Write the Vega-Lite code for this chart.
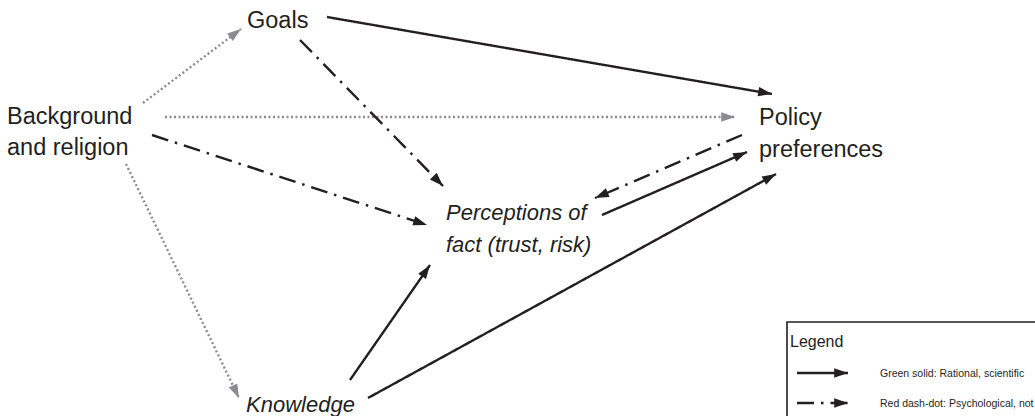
{
  "$schema": "https://vega.github.io/schema/vega-lite/v6.json",
  "width": 1035,
  "height": 416,
  "autosize": {"type": "none"},
  "padding": 0,
  "background": "white",
  "config": {"view": {"stroke": null}},
  "datasets": {
    "edges": [
      {"from": "Background", "to": "Goals", "style": "dotted", "x": 143, "y": 103, "x2": 241, "y2": 29},
      {"from": "Background", "to": "Policy", "style": "dotted", "x": 165, "y": 117, "x2": 735, "y2": 117},
      {"from": "Background", "to": "Knowledge", "style": "dotted", "x": 126, "y": 164, "x2": 239, "y2": 398},
      {"from": "Background", "to": "Perceptions", "style": "dashdot", "x": 152, "y": 135, "x2": 427, "y2": 225},
      {"from": "Goals", "to": "Perceptions", "style": "dashdot", "x": 300, "y": 40, "x2": 443, "y2": 186},
      {"from": "Goals", "to": "Policy", "style": "solid", "x": 327, "y": 17, "x2": 772, "y2": 94},
      {"from": "Policy", "to": "Perceptions", "style": "dashdot", "x": 742, "y": 135, "x2": 595, "y2": 198},
      {"from": "Perceptions", "to": "Policy", "style": "solid", "x": 602, "y": 215, "x2": 747, "y2": 152},
      {"from": "Knowledge", "to": "Perceptions", "style": "solid", "x": 350, "y": 380, "x2": 430, "y2": 265},
      {"from": "Knowledge", "to": "Policy", "style": "solid", "x": 368, "y": 398, "x2": 776, "y2": 174},
      {"from": "legend1", "to": "legend1", "style": "solid", "x": 797, "y": 373, "x2": 848, "y2": 373},
      {"from": "legend2", "to": "legend2", "style": "dashdot", "x": 797, "y": 403, "x2": 848, "y2": 403}
    ],
    "nodes": [
      {"label": "Goals", "x": 247, "y": 21},
      {"label": "Background", "x": 7, "y": 117},
      {"label": "and religion", "x": 7, "y": 148},
      {"label": "Policy", "x": 759, "y": 118},
      {"label": "preferences", "x": 759, "y": 150}
    ],
    "nodesItalic": [
      {"label": "Perceptions of", "x": 446, "y": 213},
      {"label": "fact (trust, risk)", "x": 446, "y": 245},
      {"label": "Knowledge", "x": 246, "y": 405}
    ],
    "legendBox": [{"x": 787, "y": 322, "x2": 1080, "y2": 450}],
    "legendTitle": [{"label": "Legend", "x": 790, "y": 342}],
    "legendItems": [
      {"label": "Green solid: Rational, scientific", "x": 880, "y": 374},
      {"label": "Red dash-dot: Psychological, not rational", "x": 880, "y": 404}
    ]
  },
  "layer": [
    {
      "data": {"name": "legendBox"},
      "mark": {"type": "rect", "fill": null, "stroke": "#231f20", "strokeWidth": 1.6, "clip": true},
      "encoding": {
        "x": {"field": "x", "type": "quantitative", "scale": {"domain": [0, 1035], "nice": false, "zero": false}, "axis": null},
        "x2": {"field": "x2"},
        "y": {"field": "y", "type": "quantitative", "scale": {"domain": [0, 416], "nice": false, "zero": false, "reverse": true}, "axis": null},
        "y2": {"field": "y2"}
      }
    },
    {
      "data": {"name": "edges"},
      "mark": {"type": "rule", "strokeWidth": 2.4, "strokeCap": "butt", "clip": true},
      "encoding": {
        "x": {"field": "x", "type": "quantitative", "axis": null},
        "y": {"field": "y", "type": "quantitative", "axis": null},
        "x2": {"field": "x2"},
        "y2": {"field": "y2"},
        "color": {"field": "style", "type": "nominal", "legend": null,
          "scale": {"domain": ["solid", "dashdot", "dotted"], "range": ["#231f20", "#231f20", "#8c8c8e"]}},
        "strokeDash": {"field": "style", "type": "nominal", "legend": null,
          "scale": {"domain": ["solid", "dashdot", "dotted"], "range": [[1, 0], [17, 7, 2.5, 7], [2, 2.5]]}},
        "detail": {"field": "from"}
      }
    },
    {
      "data": {"name": "edges"},
      "transform": [{"calculate": "atan2(datum.x2 - datum.x, datum.y - datum.y2) * 180 / PI", "as": "ang"}],
      "mark": {"type": "point", "shape": "M0,0L-0.6,1.75L0.6,1.75Z", "filled": true, "opacity": 1, "size": 250, "strokeWidth": 0, "clip": true},
      "encoding": {
        "x": {"field": "x2", "type": "quantitative", "axis": null},
        "y": {"field": "y2", "type": "quantitative", "axis": null},
        "angle": {"field": "ang", "type": "quantitative", "scale": null},
        "color": {"field": "style", "type": "nominal", "legend": null,
          "scale": {"domain": ["solid", "dashdot", "dotted"], "range": ["#231f20", "#231f20", "#8c8c8e"]}}
      }
    },
    {
      "data": {"name": "nodes"},
      "mark": {"type": "text", "align": "left", "baseline": "middle", "font": "Liberation Sans", "fontSize": 23.5, "color": "#231f20", "clip": true},
      "encoding": {
        "x": {"field": "x", "type": "quantitative", "axis": null},
        "y": {"field": "y", "type": "quantitative", "axis": null},
        "text": {"field": "label"}
      }
    },
    {
      "data": {"name": "nodesItalic"},
      "mark": {"type": "text", "align": "left", "baseline": "middle", "font": "Liberation Sans", "fontStyle": "italic", "fontSize": 22, "color": "#231f20", "clip": true},
      "encoding": {
        "x": {"field": "x", "type": "quantitative", "axis": null},
        "y": {"field": "y", "type": "quantitative", "axis": null},
        "text": {"field": "label"}
      }
    },
    {
      "data": {"name": "legendTitle"},
      "mark": {"type": "text", "align": "left", "baseline": "middle", "font": "Liberation Sans", "fontSize": 16, "color": "#231f20", "clip": true},
      "encoding": {
        "x": {"field": "x", "type": "quantitative", "axis": null},
        "y": {"field": "y", "type": "quantitative", "axis": null},
        "text": {"field": "label"}
      }
    },
    {
      "data": {"name": "legendItems"},
      "mark": {"type": "text", "align": "left", "baseline": "middle", "font": "Liberation Sans", "fontSize": 10.5, "color": "#231f20", "clip": true},
      "encoding": {
        "x": {"field": "x", "type": "quantitative", "axis": null},
        "y": {"field": "y", "type": "quantitative", "axis": null},
        "text": {"field": "label"}
      }
    }
  ]
}
